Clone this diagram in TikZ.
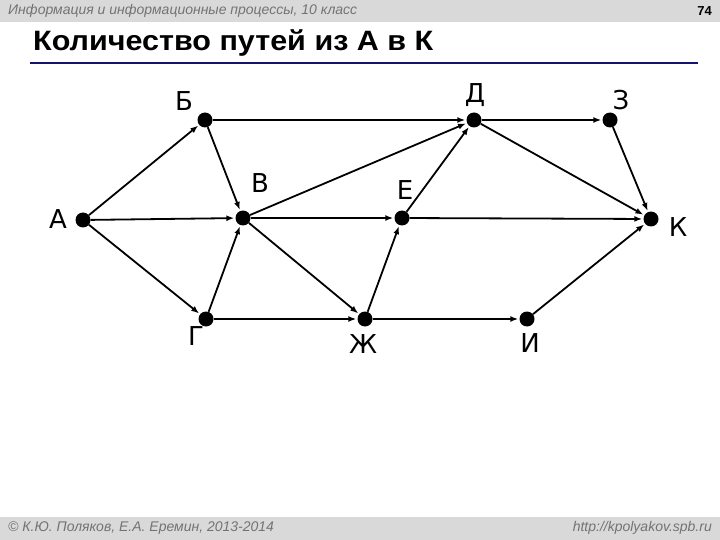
\documentclass[tikz,border=0pt]{standalone}
\usepackage{fontspec}
\setmainfont{Liberation Sans}
\newfontfamily\lblfont{DejaVu Sans}
\usetikzlibrary{arrows.meta}
\definecolor{hdrgray}{gray}{0.85}
\definecolor{hdrtext}{gray}{0.45}
\definecolor{navyline}{RGB}{20,20,110}
\begin{document}
\begin{tikzpicture}[x=1pt,y=-1pt,
  vtx/.style={circle,fill=black,inner sep=0pt,minimum size=15pt},
  lbl/.style={font=\lblfont\fontsize{26}{26}\selectfont,inner sep=0pt},
  small/.style={font=\itshape\fontsize{14}{14}\selectfont,text=hdrtext,inner sep=0pt},
  edge/.style={line width=1.8pt,-{Latex[length=8pt,width=6pt]},shorten >=1pt}]
\useasboundingbox (0,0) rectangle (720,540);
\fill[hdrgray] (0,0) rectangle (720,22);
\fill[hdrgray] (0,517) rectangle (720,540);
\node[small,anchor=west] (hdr) at (8,11) {Информация и информационные процессы, 10 класс};
\node[anchor=east,font=\bfseries\fontsize{13}{13}\selectfont,inner sep=0pt] (pg) at (712,11) {74};
\node[anchor=base west,font=\bfseries\fontsize{28}{28}\selectfont,inner sep=0pt] (title) at (33,51) {\scalebox{1.09}[1]{Количество путей из А в К}};
\draw[navyline,line width=2.5pt] (30,63) -- (698,63);
\node[small,anchor=west] (ftl) at (8,528) {© К.Ю. Поляков, Е.А. Еремин, 2013-2014};
\node[small,anchor=east] (ftr) at (712,528) {http://kpolyakov.spb.ru};

\node[vtx] (A) at (83,220) {};
\node[vtx] (B) at (205,120) {};
\node[vtx] (V) at (243,218) {};
\node[vtx] (G) at (206,319) {};
\node[vtx] (D) at (474,120) {};
\node[vtx] (Z) at (610,120) {};
\node[vtx] (E) at (402,218) {};
\node[vtx] (K) at (651,219) {};
\node[vtx] (J) at (365,319) {};
\node[vtx] (I) at (527,319) {};

\node[lbl] (lA) at (58,219) {А};
\node[lbl] (lB) at (184,101) {Б};
\node[lbl] (lV) at (260,183) {В};
\node[lbl] (lG) at (196,336) {Г};
\node[lbl] (lD) at (475,95) {Д};
\node[lbl] (lZ) at (621,100) {З};
\node[lbl] (lE) at (405,190) {Е};
\node[lbl] (lK) at (678,227) {К};
\node[lbl] (lJ) at (363,344) {Ж};
\node[lbl] (lI) at (530,343) {И};

\draw[edge] (A) -- (B);
\draw[edge] (A) -- (V);
\draw[edge] (A) -- (G);
\draw[edge] (B) -- (V);
\draw[edge] (B) -- (D);
\draw[edge] (G) -- (V);
\draw[edge] (G) -- (J);
\draw[edge] (V) -- (D);
\draw[edge] (V) -- (E);
\draw[edge] (V) -- (J);
\draw[edge] (J) -- (E);
\draw[edge] (E) -- (D);
\draw[edge] (E) -- (K);
\draw[edge] (D) -- (Z);
\draw[edge] (D) -- (K);
\draw[edge] (Z) -- (K);
\draw[edge] (J) -- (I);
\draw[edge] (I) -- (K);
\end{tikzpicture}
\end{document}
